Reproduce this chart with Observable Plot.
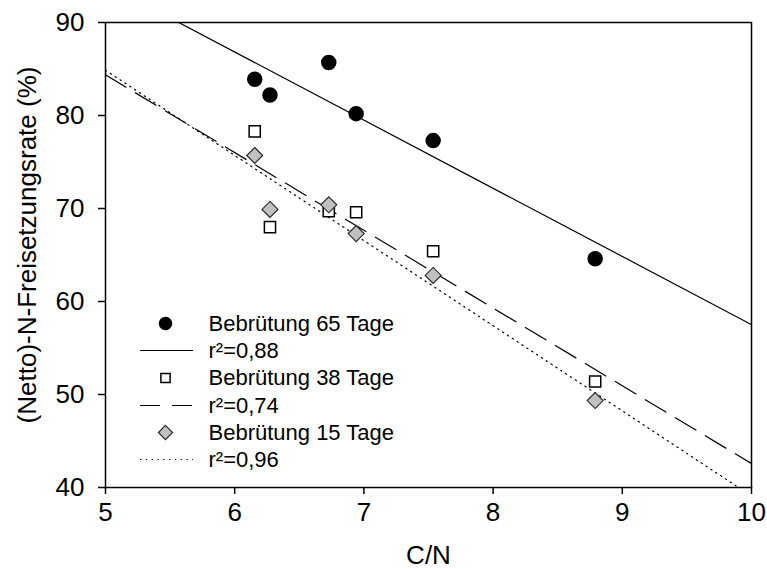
<!DOCTYPE html>
<html><head><meta charset="utf-8">
<script src="https://cdn.jsdelivr.net/npm/d3@7"></script>
<script src="https://cdn.jsdelivr.net/npm/@observablehq/plot@0.6"></script>
<style>body{margin:0;background:#fff} svg{font-family:"Liberation Sans",Arial,sans-serif;background:#fff}</style>
</head><body><div id="chart"></div>
<script>
// C/N ratio of the samples (same for all incubation times)
const cn = [6.155, 6.273, 6.728, 6.94, 7.536, 8.79];
// (Netto)-N-Freisetzungsrate (%)
const rate65 = [83.9, 82.2, 85.7, 80.2, 77.3, 64.6];
const rate38 = [78.3, 68.0, 69.7, 69.6, 65.4, 51.4];
const rate15 = [75.7, 69.9, 70.4, 67.3, 62.8, 49.35];
const seriesNames = ["Bebrütung 65 Tage", "Bebrütung 38 Tage", "Bebrütung 15 Tage"];
const r2Labels = ["r²=0,88", "r²=0,74", "r²=0,96"];
const xTicks = [5, 6, 7, 8, 9, 10];
const yTicks = [40, 50, 60, 70, 80, 90];
const xLabel = "C/N";
const yLabel = "(Netto)-N-Freisetzungsrate (%)";

function pts(ys) { return cn.map((x, i) => ({x, y: ys[i]})); }
function fitLine(ys) {
  const mx = d3.mean(cn), my = d3.mean(ys);
  let sxy = 0, sxx = 0;
  cn.forEach((x, i) => { sxy += (x - mx) * (ys[i] - my); sxx += (x - mx) ** 2; });
  const b = sxy / sxx, a = my - b * mx;
  return d3.extent(xTicks).map(x => ({x, y: a + b * x}));
}

const FRAME_BOTTOM = 487;
const rowY = [323, 350, 377.5, 405, 432, 459];
const symX = 60, txtX = 103;
const hline = {draw(ctx) { ctx.moveTo(-26.5, 0); ctx.lineTo(26.5, 0); }};
const styles = [
  {dot: {symbol: "circle", r: 7, fill: "black", stroke: "black"}, leg: {r: 6}, line: {strokeDasharray: null}},
  {dot: {symbol: "square", r: 6.3, fill: "white", stroke: "black", strokeWidth: 1.5}, leg: {r: 5.2}, line: {strokeDasharray: "24,11"}},
  {dot: {symbol: "diamond2", r: 7.2, fill: "#c0c0c0", stroke: "#222", strokeWidth: 1.1}, leg: {r: 6.4}, line: {strokeDasharray: "1.3,4.5"}}
];
const seriesVals = [rate65, rate38, rate15];

const legendMarks = [];
seriesVals.forEach((_, k) => {
  const yd = rowY[2 * k] - FRAME_BOTTOM, yl = rowY[2 * k + 1] - FRAME_BOTTOM;
  legendMarks.push(Plot.dot([seriesNames[k]], {frameAnchor: "bottom-left", dx: symX, dy: yd, ...styles[k].dot, ...styles[k].leg}));
  legendMarks.push(Plot.text([seriesNames[k]], {frameAnchor: "bottom-left", dx: txtX, dy: yd, text: d => d, textAnchor: "start", lineAnchor: "middle", fontSize: 22}));
  legendMarks.push(Plot.dot([r2Labels[k]], {frameAnchor: "bottom-left", dx: symX + 1, dy: yl, symbol: hline, fill: "none", stroke: "black", strokeWidth: 1.2, strokeDasharray: k === 1 ? "20,12" : styles[k].line.strokeDasharray}));
  legendMarks.push(Plot.text([r2Labels[k]], {frameAnchor: "bottom-left", dx: txtX, dy: yl, text: d => d, textAnchor: "start", lineAnchor: "middle", fontSize: 22}));
});

const chart = Plot.plot({
  width: 767, height: 569,
  marginLeft: 105, marginRight: 16, marginTop: 22, marginBottom: 82,
  style: {fontFamily: '"Liberation Sans", Arial, sans-serif', fontSize: "26px", color: "black", background: "white"},
  x: {domain: [5, 10]},
  y: {domain: [40, 90]},
  marks: [
    ...[0, 1, 2].map(k => Plot.line(fitLine(seriesVals[k]), {x: "x", y: "y", stroke: "black", strokeWidth: 1.2, strokeDasharray: styles[k].line.strokeDasharray, clip: true})),
    ...[1, 2, 0].map(k => Plot.dot(pts(seriesVals[k]), {x: "x", y: "y", ...styles[k].dot})),
    Plot.frame({stroke: "black", strokeWidth: 1.5}),
    Plot.axisX(xTicks, {tickSize: 7, tickPadding: 8, fontSize: 26, label: null, strokeWidth: 1.5, tickFormat: d => String(d)}),
    Plot.axisY(yTicks, {tickSize: 7, tickPadding: 14, fontSize: 26, label: null, strokeWidth: 1.5, tickFormat: d => String(d)}),
    Plot.text([xLabel], {frameAnchor: "bottom", dy: 68, text: d => d, lineAnchor: "middle", textAnchor: "middle", fontSize: 26}),
    Plot.text([yLabel], {frameAnchor: "left", dx: -78, dy: -10, rotate: -90, text: d => d, lineAnchor: "middle", textAnchor: "middle", fontSize: 26}),
    ...legendMarks
  ]
});
document.getElementById("chart").append(chart);
</script>
</body></html>
